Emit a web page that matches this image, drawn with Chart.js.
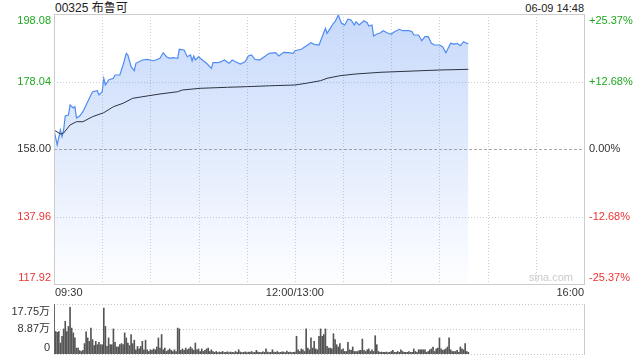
<!DOCTYPE html>
<html>
<head>
<meta charset="utf-8">
<script src="https://cdn.jsdelivr.net/npm/chart.js@4.4.1/dist/chart.umd.min.js"></script>
<style>
  body { margin: 0; background: #fff; width: 640px; height: 360px; overflow: hidden; position: relative;
         font-family: "Liberation Sans", Arial, "Noto Sans CJK SC", sans-serif; }
  #title { position: absolute; left: 55px; top: 1px; font-size: 12px; line-height: 14px; color: #222; }
  #stamp { position: absolute; right: 56px; top: 2px; font-size: 11px; line-height: 13px; color: #222; }
  #main { position: absolute; left: 0; top: 0; }
  #vol  { position: absolute; left: 0; top: 300px; }
</style>
</head>
<body>
<div id="title">00325 布鲁可</div>
<div id="stamp">06-09 14:48</div>
<canvas id="main" width="640" height="300"></canvas>
<canvas id="vol" width="640" height="60"></canvas>
<script>
/* ---------- data (minute index from 09:30, lunch break removed) ---------- */
const priceMinutes = [0,2,4,5,6,7,9,10,12,13,14,16,18,20,22,24,27,28,30,31,
  32,34,37,38,41,43,45,46,48,50,51,55,58,62,66,68,70,72,74,77,
  78,81,83,85,86,87,88,90,93,95,98,99,102,104,106,109,111,113,116,119,
  121,123,125,128,131,134,138,140,143,146,149,150,152,154,157,160,162,165,167,169,
  170,172,174,175,177,179,181,183,185,187,188,190,193,195,196,198,199,201,203,205,
  208,210,212,215,217,221,223,224,227,229,231,233,235,237,240,242,244,247,249,251,
  253,255,258];
const prices = [163.64,159.19,163.64,161.65,163.64,167.80,168.09,171.06,170.17,170.56,
  167.20,167.80,169.07,171.06,173.05,175.01,175.31,174.03,175.01,178.99,
  177.00,178.49,178.99,179.97,179.97,182.94,186.41,185.91,182.43,181.25,
  183.44,184.42,184.63,184.21,184.93,186.59,185.40,184.93,185.11,184.93,
  187.60,187.39,185.40,185.91,184.13,185.61,184.42,185.40,184.21,183.44,
  181.96,183.62,183.62,183.92,184.42,183.44,184.42,183.92,183.24,183.92,
  185.61,185.91,184.63,184.42,185.40,186.41,186.59,185.61,186.71,186.59,
  186.41,187.18,187.39,187.60,188.58,189.56,189.08,188.88,191.34,193.83,
  192.35,193.83,195.32,195.79,197.78,195.32,194.81,196.51,196.30,194.81,
  195.79,194.81,196.09,195.50,194.52,194.81,191.55,192.14,192.44,193.12,
  192.35,192.14,192.83,193.54,193.12,193.12,192.83,191.85,191.85,190.15,
  191.34,191.34,189.38,188.88,188.88,188.37,186.59,189.38,189.17,189.38,
  188.67,189.86,189.17];

const avgMinutes = [0,4,6,10,14,18,24,31,37,43,49,58,66,77,80,91,108,120,134,150,
  157,166,170,178,188,203,240,258];
const avgPrices = [163.64,162.45,162.75,165.13,166.10,166.10,167.59,168.78,170.56,171.57,
  173.05,173.74,174.33,175.01,175.52,176.02,176.32,176.50,176.76,177.00,
  177.51,178.28,178.99,179.76,180.27,180.77,181.45,181.66];

/* volume per minute, in 万 */
const volumes = [17.75,8.0,7.7,8.0,3.9,6.3,8.9,11.6,8.0,9.8,16.6,9.2,7.5,5.7,2.1,2.1,1.2,0.9,1.3,3.7,
  7.9,5.7,4.5,9.2,5.1,3.0,4.5,3.3,4.1,3.3,3.3,16.3,9.8,2.7,5.7,3.3,3.3,8.9,4.1,2.5,
  2.5,3.3,3.7,3.3,7.5,5.7,3.9,3.0,6.9,3.7,4.9,1.5,2.7,1.8,2.7,4.5,1.5,4.9,1.5,0.9,
  1.5,1.3,1.8,1.5,2.5,5.7,2.1,6.9,1.5,2.1,0.9,1.3,1.8,1.3,0.9,1.5,0.9,9.2,8.9,1.3,
  1.8,1.3,2.1,1.5,1.8,2.5,1.8,1.3,3.9,1.5,1.8,0.9,1.8,0.9,1.3,1.8,2.1,0.9,1.5,0.9,
  0.6,0.9,0.5,0.7,0.6,0.9,0.5,0.6,0.8,0.5,0.7,0.6,0.5,0.9,0.6,1.5,0.7,0.5,0.6,0.8,
  0.5,0.7,0.6,0.9,0.5,0.6,1.3,0.7,0.6,0.5,0.8,0.6,1.8,0.7,0.5,0.6,1.5,0.7,0.6,0.9,
  0.5,0.6,0.8,0.7,0.5,1.0,0.6,0.7,0.5,0.6,0.7,
  6.3,1.5,0.9,1.8,1.5,0.9,8.9,2.1,1.5,5.7,2.1,4.5,1.8,1.5,
  6.3,8.9,6.3,6.9,8.9,2.7,2.1,2.1,1.8,7.2,5.1,3.3,2.5,3.7,1.5,1.8,0.9,0.9,4.1,1.5,
  1.3,2.5,0.9,0.9,0.9,1.2,1.3,5.3,1.3,0.9,1.5,1.8,0.9,1.5,0.9,6.5,3.3,0.9,0.6,0.7,
  0.6,0.6,0.7,0.5,0.6,0.9,1.3,0.6,0.6,0.9,0.6,1.5,0.9,0.6,0.6,0.6,0.9,0.6,0.6,1.8,
  0.9,0.6,1.5,1.5,1.5,1.5,1.5,0.6,0.9,1.5,1.8,2.5,0.9,1.8,2.1,5.7,1.8,1.3,1.5,1.8,
  2.5,5.7,1.5,0.9,0.9,0.9,1.3,0.6,2.5,1.8,1.5,3.7,0.9,0.6];

const priceTicks  = [198.08, 178.04, 158.00, 137.96, 117.92];
const pctTicks    = ['+25.37%', '+12.68%', '0.00%', '-12.68%', '-25.37%'];
const prevClose   = 158.00;
const timeTicks   = [0, 150, 330];
const timeLabels  = ['09:30', '12:00/13:00', '16:00'];
const volTicks    = [17.75, 8.87, 0];
const volLabels   = ['17.75万', '8.87万', '0'];

/* ---------- helpers ---------- */
const FONT  = '"Liberation Sans", Arial, "Noto Sans CJK SC", sans-serif';
const GREEN = '#1fa81f', RED = '#ee3333', GREY = '#333';

function hline(ctx, x1, x2, y) { ctx.beginPath(); ctx.moveTo(x1, y); ctx.lineTo(x2, y); ctx.stroke(); }
function vline(ctx, x, y1, y2) { ctx.beginPath(); ctx.moveTo(x, y1); ctx.lineTo(x, y2); ctx.stroke(); }
function crisp(v) { return Math.round(v) + 0.5; }
function priceColor(v) { return v > prevClose ? GREEN : (v < prevClose ? RED : GREY); }

/* grid, borders and labels of the price panel */
const priceFrame = {
  id: 'priceFrame',
  beforeDatasetsDraw(chart) {
    const { ctx, chartArea: a, scales: { x, y } } = chart;
    ctx.save();
    ctx.lineWidth = 1;
    ctx.strokeStyle = '#cdcdcd';
    ctx.setLineDash([1, 2]);
    for (let m = 30; m < 330; m += 30) vline(ctx, crisp(x.getPixelForValue(m)), a.top, a.bottom);
    priceTicks.forEach((v, i) => {
      if (i === 0 || i === priceTicks.length - 1 || v === prevClose) return;
      hline(ctx, a.left, a.right, crisp(y.getPixelForValue(v)));
    });
    ctx.strokeStyle = '#a8a8a8';
    ctx.setLineDash([3, 2]);
    hline(ctx, a.left, a.right, crisp(y.getPixelForValue(prevClose)));
    ctx.restore();
  },
  afterDraw(chart) {
    const { ctx, chartArea: a, scales: { x, y } } = chart;
    ctx.save();
    ctx.strokeStyle = '#cccccc';
    ctx.lineWidth = 1;
    ctx.setLineDash([]);
    ctx.strokeRect(crisp(a.left), crisp(a.top), Math.round(a.right - a.left), Math.round(a.bottom - a.top));

    ctx.font = '11px ' + FONT;
    priceTicks.forEach((v, i) => {
      const py = y.getPixelForValue(v);
      let yy = py, base = 'middle';
      if (i === 0) { yy = py + 1; base = 'top'; }
      if (i === priceTicks.length - 1) { yy = py - 1; base = 'bottom'; }
      ctx.textBaseline = base;
      ctx.fillStyle = priceColor(v);
      ctx.textAlign = 'right';
      ctx.fillText(v.toFixed(2), a.left - 3, yy);
      ctx.textAlign = 'left';
      ctx.fillText(pctTicks[i], a.right + 5, yy);
    });

    ctx.fillStyle = GREY;
    ctx.textBaseline = 'middle';
    timeTicks.forEach((m, i) => {
      const px = x.getPixelForValue(m);
      ctx.textAlign = i === 0 ? 'left' : (i === timeTicks.length - 1 ? 'right' : 'center');
      ctx.fillText(timeLabels[i], i === 0 ? px + 1 : px, a.bottom + 9);
    });

    ctx.fillStyle = '#cbcbcb';
    ctx.textAlign = 'right';
    ctx.fillText('sina.com', a.right - 11, a.bottom - 6);
    ctx.restore();
  }
};

const volFrame = {
  id: 'volFrame',
  beforeDatasetsDraw(chart) {
    const { ctx, chartArea: a, scales: { y } } = chart;
    ctx.save();
    ctx.lineWidth = 1;
    ctx.strokeStyle = '#c4c4c4';
    ctx.setLineDash([1, 2]);
    volTicks.forEach(v => hline(ctx, a.left, a.right, crisp(y.getPixelForValue(v))));
    ctx.setLineDash([]);
    ctx.strokeStyle = '#cccccc';
    vline(ctx, crisp(a.right), a.top, a.bottom + 1);
    vline(ctx, crisp(a.left), a.top, a.bottom + 1);
    ctx.restore();
  },
  afterDraw(chart) {
    const { ctx, chartArea: a, scales: { y } } = chart;
    ctx.save();
    ctx.font = '11px ' + FONT;
    ctx.fillStyle = GREY;
    ctx.textAlign = 'right';
    volTicks.forEach((v, i) => {
      const py = y.getPixelForValue(v);
      let yy = py, base = 'middle';
      if (i === 0) { yy = py + 2; base = 'top'; }
      if (i === volTicks.length - 1) { yy = py - 1; base = 'bottom'; }
      ctx.textBaseline = base;
      ctx.fillText(volLabels[i], a.left - 4, yy);
    });
    ctx.restore();
  }
};

Chart.defaults.animation = false;
Chart.defaults.font.family = FONT;

/* ---------- price panel ---------- */
new Chart(document.getElementById('main'), {
  type: 'line',
  data: {
    datasets: [
      {
        label: 'avg',
        data: avgMinutes.map((m, i) => ({ x: m, y: avgPrices[i] })),
        borderColor: '#2c3342',
        borderWidth: 1,
        pointRadius: 0,
        fill: false,
        tension: 0
      },
      {
        label: 'price',
        data: priceMinutes.map((m, i) => ({ x: m, y: prices[i] })),
        borderColor: '#4f8cf3',
        borderWidth: 1.2,
        pointRadius: 0,
        tension: 0,
        fill: 'start',
        backgroundColor(ctx) {
          const a = ctx.chart.chartArea;
          if (!a) return 'rgba(70,130,240,0.15)';
          const g = ctx.chart.ctx.createLinearGradient(0, a.top, 0, a.bottom);
          g.addColorStop(0, 'rgba(70,130,240,0.30)');
          g.addColorStop(1, 'rgba(70,130,240,0.01)');
          return g;
        }
      }
    ]
  },
  options: {
    responsive: false,
    layout: { padding: { left: 54, right: 56, top: 14, bottom: 16 } },
    plugins: { legend: { display: false }, tooltip: { enabled: false } },
    scales: {
      x: { type: 'linear', min: 0, max: 330, display: false },
      y: { min: priceTicks[priceTicks.length - 1], max: priceTicks[0], display: false }
    }
  },
  plugins: [priceFrame]
});

/* ---------- volume panel ---------- */
new Chart(document.getElementById('vol'), {
  type: 'bar',
  data: {
    datasets: [{
      data: volumes.map((v, i) => ({ x: i, y: v })),
      backgroundColor: '#555555',
      barThickness: 1
    }]
  },
  options: {
    responsive: false,
    layout: { padding: { left: 54, right: 56, top: 4, bottom: 6 } },
    plugins: { legend: { display: false }, tooltip: { enabled: false } },
    scales: {
      x: { type: 'linear', min: 0, max: 330, offset: false, display: false },
      y: { min: 0, max: volTicks[0], display: false }
    }
  },
  plugins: [volFrame]
});
</script>
</body>
</html>
